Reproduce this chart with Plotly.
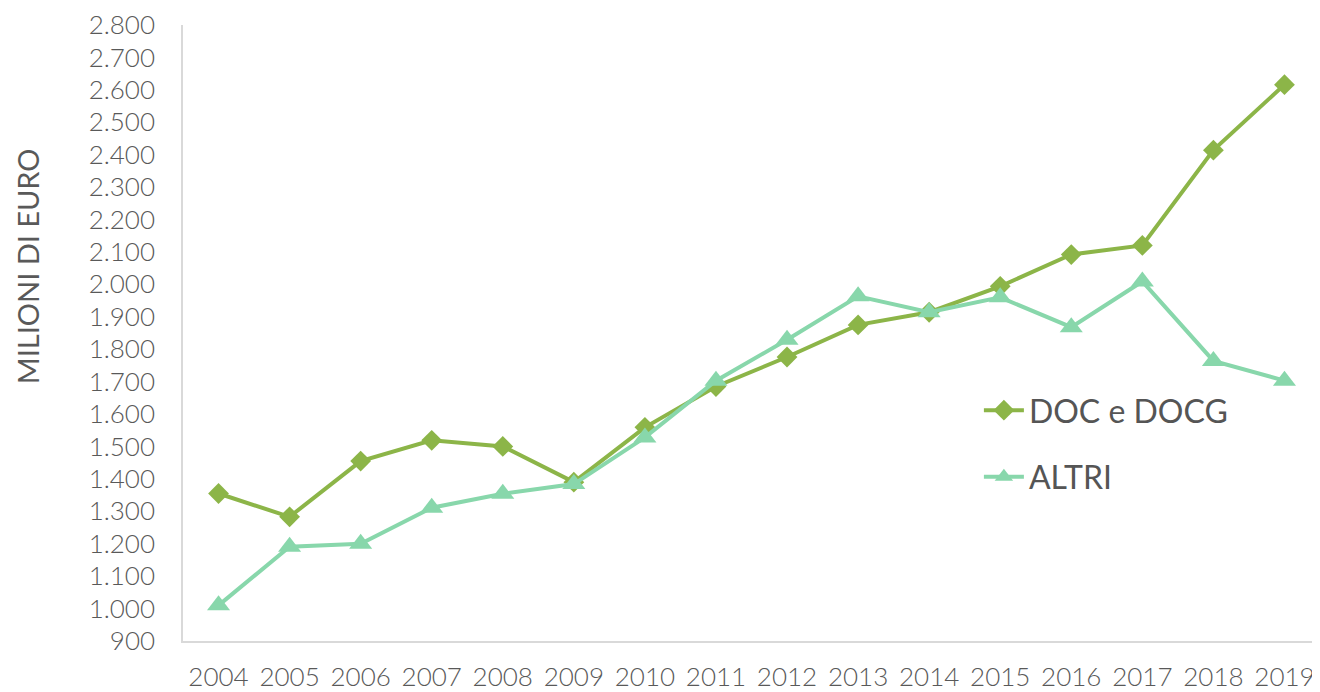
import plotly.graph_objects as go

years = [str(y) for y in range(2004, 2020)]
doc_docg = [1355, 1283, 1455, 1519, 1500, 1390, 1559, 1685, 1776, 1875, 1914, 1994, 2092, 2120, 2414, 2616]
altri = [1010, 1191, 1200, 1311, 1354, 1384, 1528, 1703, 1829, 1963, 1914, 1960, 1868, 2009, 1764, 1703]
y_ticks = list(range(900, 2900, 100))

FONT = "Lato Light, Lato"
GRAY = "#595959"

fig = go.Figure()
fig.add_trace(go.Scatter(
    x=years, y=doc_docg, name="DOC e DOCG", mode="lines+markers",
    line=dict(color="#8CB548", width=4),
    marker=dict(symbol="diamond", size=16, color="#8CB548"),
    legendgroup="a"))
fig.add_trace(go.Scatter(
    x=years, y=altri, name="ALTRI", mode="lines+markers",
    line=dict(color="#88D7AB", width=4),
    marker=dict(symbol="triangle-up", size=20, color="#88D7AB"),
    legendgroup="b"))

fig.update_layout(
    width=1312, height=684,
    margin=dict(l=175, r=0, t=16, b=48),
    plot_bgcolor="white", paper_bgcolor="white",
    separators=",.",
    font=dict(family=FONT, color=GRAY),
    showlegend=True,
    legend=dict(x=0.7, y=0.32, xanchor="left", yanchor="middle",
                font=dict(size=32, color="#555555", family="Lato"),
                tracegroupgap=22, itemwidth=40, bgcolor="rgba(0,0,0,0)"),
    xaxis=dict(type="category", range=[-0.5, 15.5], showgrid=False,
               showline=True, linecolor="#D9D9D9", linewidth=1.5,
               ticks="", tickfont=dict(size=26, color=GRAY, family=FONT, weight=300),
               ticklabelstandoff=12, fixedrange=True),
    yaxis=dict(range=[900, 2800], tickvals=y_ticks, tickformat=",d",
               showgrid=False, zeroline=False, ticklabeloverflow="allow",
               showline=True, linecolor="#D9D9D9", linewidth=1.5,
               ticks="", tickfont=dict(size=26, color=GRAY, family=FONT, weight=300),
               ticklabelstandoff=21),
    annotations=[dict(text="MILIONI DI EURO", xref="paper", yref="paper",
                      x=-0.1365, y=0.608, textangle=-90, showarrow=False,
                      font=dict(size=29, color=GRAY, family="Lato"),
                      xanchor="center", yanchor="middle", borderpad=0)],
)

fig.write_html("out.html")
